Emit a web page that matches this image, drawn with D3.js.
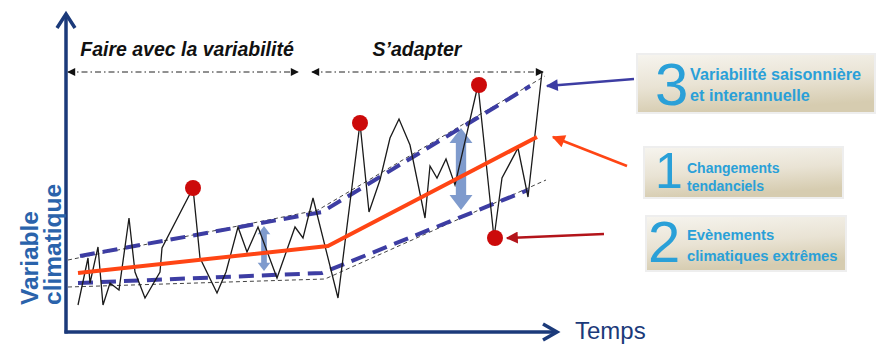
<!DOCTYPE html>
<html>
<head>
<meta charset="utf-8">
<script src="https://cdn.jsdelivr.net/npm/d3@7"></script>
<style>
  html, body { margin: 0; padding: 0; background: #fff; }
  svg { display: block; }
</style>
</head>
<body>
<svg id="chart" width="876" height="345"></svg>
<script>
// Schematic: climate variable over time (abstract units)
const series = [
  [1.2, 5], [2.2, 14.4], [2.4, 9.4], [3.2, 16.6], [3.7, 5], [4.4, 9.4], [5.3, 8],
  [6.3, 22.4], [6.9, 11.6], [7.9, 6.4], [9.4, 11.6], [9.6, 16.4], [12.7, 28.4],
  [13.4, 14.4], [15.1, 7.4], [16.0, 11.6], [17.2, 20.6], [18.1, 15.6], [19.2, 20.6],
  [21.1, 10.4], [22.9, 20.6], [23.7, 18.4], [24.7, 26.4], [27.2, 6.4], [29.4, 41.4],
  [30.3, 23.6], [31.4, 30], [32.4, 38.4], [33.3, 42.2], [34.4, 37], [35.9, 22.4],
  [36.4, 32.8], [37.1, 30.4], [38.0, 34.2], [38.9, 29], [41.2, 49], [42.8, 18.4],
  [43.6, 30.4], [45.2, 36.4], [46.2, 26.6], [47.6, 51.6]
];
const extremes = [[12.7, 28.4], [29.4, 41.4], [41.3, 49], [42.9, 18.4]];
const trend = [[1.2, 11.4], [26.2, 16.8], [47.1, 38.6]];
const bandUpper = [[1.4, 14.8], [25.6, 23.6], [46.4, 48.8]];
const bandLower = [[1.2, 9.4], [25.6, 11.4], [46.2, 28]];
const envUpper = [[0.2, 14], [25.2, 24], [47.9, 50.8]];
const envLower = [[0.2, 8.6], [25.9, 10.2], [48, 30]];
const spreadArrows = [[19.8, 11.8, 20.8], [39.5, 24, 40.4]];
const periods = [
  { label: "Faire avec la variabilité", from: 0.2, to: 23.2, mid: 12.1 },
  { label: "S\u2019adapter", from: 24.6, to: 47.7, mid: 35.1 }
];
const periodLevel = 51.6;
const axisTitles = { y: ["Variable", "climatique"], x: "Temps" };
const legendItems = [
  { num: "3", lines: ["Variabilité saisonnière", "et interannuelle"] },
  { num: "1", lines: ["Changements", "tendanciels"] },
  { num: "2", lines: ["Evènements", "climatiques extrêmes"] }
];

const svg = d3.select("#chart");
const x = d3.scaleLinear().domain([0, 49]).range([66, 556]);
const y = d3.scaleLinear().domain([0, 63]).range([330, 15]);
const line = d3.line().x(d => x(d[0])).y(d => y(d[1]));

const navy = "#1b3a7a";
const band = "#3d3da3";
const orange = "#ff4514";
const font = "Liberation Sans, Arial, sans-serif";

// gradient for legend boxes
const defs = svg.append("defs");
const grad = defs.append("linearGradient").attr("id", "boxFill")
  .attr("x1", 0).attr("y1", 0).attr("x2", 0.25).attr("y2", 1);
grad.append("stop").attr("offset", "0%").attr("stop-color", "#f6f4ee");
grad.append("stop").attr("offset", "55%").attr("stop-color", "#e9e3d4");
grad.append("stop").attr("offset", "100%").attr("stop-color", "#d6ccb0");

function marker(id, color, w, h) {
  defs.append("marker").attr("id", id)
    .attr("viewBox", "0 0 10 10").attr("refX", 9).attr("refY", 5)
    .attr("markerWidth", w).attr("markerHeight", h)
    .attr("markerUnits", "userSpaceOnUse")
    .attr("orient", "auto-start-reverse")
    .append("path").attr("d", "M0,0 L10,5 L0,10 Z").attr("fill", color);
}
marker("arrBlack", "#111", 9, 8);
marker("arrBlue", band, 14, 12);
marker("arrOrange", orange, 16, 13);
marker("arrRed", "#b3141a", 14, 12);

// axes with open chevron heads
const x0 = x(0), yb = y(-0.4), yTop = 13, xEnd = 557;
svg.append("line").attr("x1", x0).attr("y1", yb + 1.5).attr("x2", x0).attr("y2", yTop + 1)
  .attr("stroke", navy).attr("stroke-width", 3.5);
svg.append("line").attr("x1", x0 - 1.5).attr("y1", yb).attr("x2", xEnd - 1).attr("y2", yb)
  .attr("stroke", navy).attr("stroke-width", 3.5);
svg.append("path").attr("d", `M${x0 - 9},${yTop + 15} L${x0},${yTop + 1} L${x0 + 9},${yTop + 15}`)
  .attr("fill", "none").attr("stroke", navy).attr("stroke-width", 3.5).attr("stroke-linejoin", "miter");
svg.append("path").attr("d", `M${xEnd - 14},${yb - 8} L${xEnd},${yb} L${xEnd - 14},${yb + 8}`)
  .attr("fill", "none").attr("stroke", navy).attr("stroke-width", 3.5);

// axis titles
const ytitle = svg.append("text").attr("transform", `translate(38,305) rotate(-90)`)
  .attr("font-family", font).attr("font-weight", "bold")
  .attr("font-size", 24.5).attr("fill", "#2a63ab");
ytitle.append("tspan").attr("x", 0).attr("y", 0).text(axisTitles.y[0]);
ytitle.append("tspan").attr("x", 0).attr("y", 23).text(axisTitles.y[1]);
svg.append("text").attr("x", 575).attr("y", 339)
  .attr("font-family", font).attr("font-size", 24)
  .attr("fill", navy).text(axisTitles.x);

// period spans
periods.forEach(p => {
  svg.append("line").attr("x1", x(p.from)).attr("x2", x(p.to))
    .attr("y1", y(periodLevel)).attr("y2", y(periodLevel))
    .attr("stroke", "#222").attr("stroke-width", 1)
    .attr("stroke-dasharray", "6,3,1.5,3")
    .attr("marker-start", "url(#arrBlack)").attr("marker-end", "url(#arrBlack)");
  svg.append("text").attr("x", x(p.mid)).attr("y", 56)
    .attr("text-anchor", "middle")
    .attr("font-family", font).attr("font-weight", "bold")
    .attr("font-style", "italic").attr("font-size", 19.5).attr("fill", "#111").text(p.label);
});

// thin envelope
[envUpper, envLower].forEach(d => {
  svg.append("path").attr("d", line(d)).attr("fill", "none")
    .attr("stroke", "#444").attr("stroke-width", 1).attr("stroke-dasharray", "4,3");
});

// spread arrows, width scaled with their length
spreadArrows.forEach(([t, lo, hi]) => {
  const cx = x(t), yt = y(hi), ybm = y(lo);
  const len = ybm - yt, hw = len * 0.14, sw = hw * 0.45, hl = hw * 1.3;
  svg.append("path")
    .attr("d", `M${cx},${yt} L${cx + hw},${yt + hl} L${cx + sw},${yt + hl} L${cx + sw},${ybm - hl}
      L${cx + hw},${ybm - hl} L${cx},${ybm} L${cx - hw},${ybm - hl} L${cx - sw},${ybm - hl}
      L${cx - sw},${yt + hl} L${cx - hw},${yt + hl} Z`)
    .attr("fill", "#5f82c0").attr("fill-opacity", 0.8);
});

// dashed band
[bandUpper, bandLower].forEach(d => {
  svg.append("path").attr("d", line(d)).attr("fill", "none")
    .attr("stroke", band).attr("stroke-width", 4).attr("stroke-dasharray", "15,8");
});

// observed series
svg.append("path").attr("d", line(series)).attr("fill", "none")
  .attr("stroke", "#1a1a1a").attr("stroke-width", 1.3).attr("stroke-linejoin", "miter");

// trend
svg.append("path").attr("d", line(trend)).attr("fill", "none")
  .attr("stroke", orange).attr("stroke-width", 4).attr("stroke-linejoin", "round");

// extremes
svg.selectAll("circle.ext").data(extremes).join("circle").attr("class", "ext")
  .attr("cx", d => x(d[0])).attr("cy", d => y(d[1])).attr("r", 8).attr("fill", "#cc0a0a");

// legend boxes
const boxes = [
  { x: 638, y: 55, w: 236, h: 57, nx: 655, ny: 105, ns: 60, tx: 690, ty: [80, 101], fs: 16.2 },
  { x: 645, y: 148, w: 197, h: 49, nx: 655, ny: 188, ns: 50, tx: 687, ty: [173, 191], fs: 14 },
  { x: 647, y: 217, w: 198, h: 53, nx: 648, ny: 262, ns: 58, tx: 687, ty: [240, 261], fs: 14.8 }
];
legendItems.forEach((it, i) => {
  const b = boxes[i];
  svg.append("rect").attr("x", b.x - 2).attr("y", b.y - 2).attr("width", b.w + 4).attr("height", b.h + 4)
    .attr("fill", "#eeeeee");
  svg.append("rect").attr("x", b.x).attr("y", b.y).attr("width", b.w).attr("height", b.h)
    .attr("fill", "url(#boxFill)");
  svg.append("text").attr("x", b.nx).attr("y", b.ny)
    .attr("font-family", font).attr("font-size", b.ns)
    .attr("fill", "#2aa0d8").text(it.num);
  it.lines.forEach((l, j) => {
    svg.append("text").attr("x", b.tx).attr("y", b.ty[j])
      .attr("font-family", font).attr("font-weight", "bold")
      .attr("font-size", b.fs).attr("fill", "#2aa0d8").text(l);
  });
});

// pointers from legend to marks
svg.append("line").attr("x1", 634).attr("y1", 79).attr("x2", 547).attr("y2", 86)
  .attr("stroke", band).attr("stroke-width", 2.5).attr("marker-end", "url(#arrBlue)");
svg.append("line").attr("x1", 627).attr("y1", 166).attr("x2", x(trend[2][0]) + 16).attr("y2", y(trend[2][1]))
  .attr("stroke", orange).attr("stroke-width", 2.5).attr("marker-end", "url(#arrOrange)");
svg.append("line").attr("x1", 604).attr("y1", 234).attr("x2", x(extremes[3][0]) + 12).attr("y2", y(extremes[3][1]))
  .attr("stroke", "#b3141a").attr("stroke-width", 2.5).attr("marker-end", "url(#arrRed)");
</script>
</body>
</html>
